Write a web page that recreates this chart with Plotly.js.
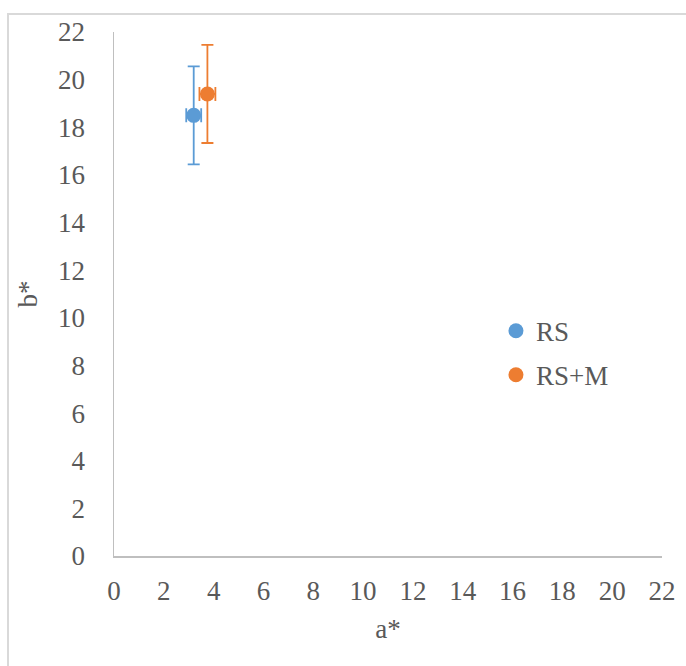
<!DOCTYPE html>
<html>
<head>
<meta charset="utf-8">
<script src="https://cdn.plot.ly/plotly-3.0.1.min.js"></script>
<style>
  html, body { margin: 0; padding: 0; background: #fff; }
  #frame { position: absolute; left: 7px; top: 13px; width: 720px; height: 720px; border: 2px solid #d9d9d9; box-sizing: border-box; }
  #chart { position: absolute; left: 0; top: 0; width: 686px; height: 666px; }
</style>
</head>
<body>
<div id="frame"></div>
<div id="chart"></div>
<script>
const seriesNames = ["RS", "RS+M"];
const aStar = [3.2, 3.75];
const bStar = [18.5, 19.4];
const aErr = [0.3, 0.32];
const bErr = [2.06, 2.06];
const colors = ["#5B9BD5", "#ED7D31"];
const tickVals = [0, 2, 4, 6, 8, 10, 12, 14, 16, 18, 20, 22];

const font = { family: "Liberation Serif", color: "#595959", size: 27 };

const traces = seriesNames.map((name, i) => ({
  type: "scatter",
  mode: "markers",
  name: name,
  x: [aStar[i]],
  y: [bStar[i]],
  marker: { color: colors[i], size: 15 },
  error_y: { type: "data", array: [bErr[i]], visible: true, color: colors[i], thickness: 1.8, width: 6 },
  error_x: { type: "data", array: [aErr[i]], visible: true, color: colors[i], thickness: 1.8, width: 7 },
  legend: i === 0 ? "legend" : "legend2",
  showlegend: true
}));

const axisBase = {
  range: [0, 22],
  tickvals: tickVals,
  ticktext: tickVals.map(String),
  showgrid: false,
  zeroline: false,
  showline: true,
  linecolor: "#bfbfbf",
  linewidth: 1.5,
  ticks: "",
  tickfont: font,
  fixedrange: true
};

const layout = {
  width: 686,
  height: 666,
  margin: { l: 114, r: 24, t: 32, b: 110 },
  paper_bgcolor: "rgba(0,0,0,0)",
  plot_bgcolor: "rgba(0,0,0,0)",
  font: font,
  showlegend: true,
  xaxis: Object.assign({}, axisBase, {
    ticklabelstandoff: 10,
    title: { text: "a*", font: font, standoff: 14 }
  }),
  yaxis: Object.assign({}, axisBase, {
    ticklabelstandoff: 22,
    title: { text: "b*", font: font, standoff: 12 }
  }),
  legend: {
    x: 0.697, y: 0.429, xanchor: "left", yanchor: "middle",
    bgcolor: "rgba(0,0,0,0)", font: font, itemwidth: 30
  },
  legend2: {
    x: 0.697, y: 0.345, xanchor: "left", yanchor: "middle",
    bgcolor: "rgba(0,0,0,0)", font: font, itemwidth: 30
  }
};

Plotly.newPlot("chart", traces, layout, { staticPlot: true, displayModeBar: false });
</script>
</body>
</html>
